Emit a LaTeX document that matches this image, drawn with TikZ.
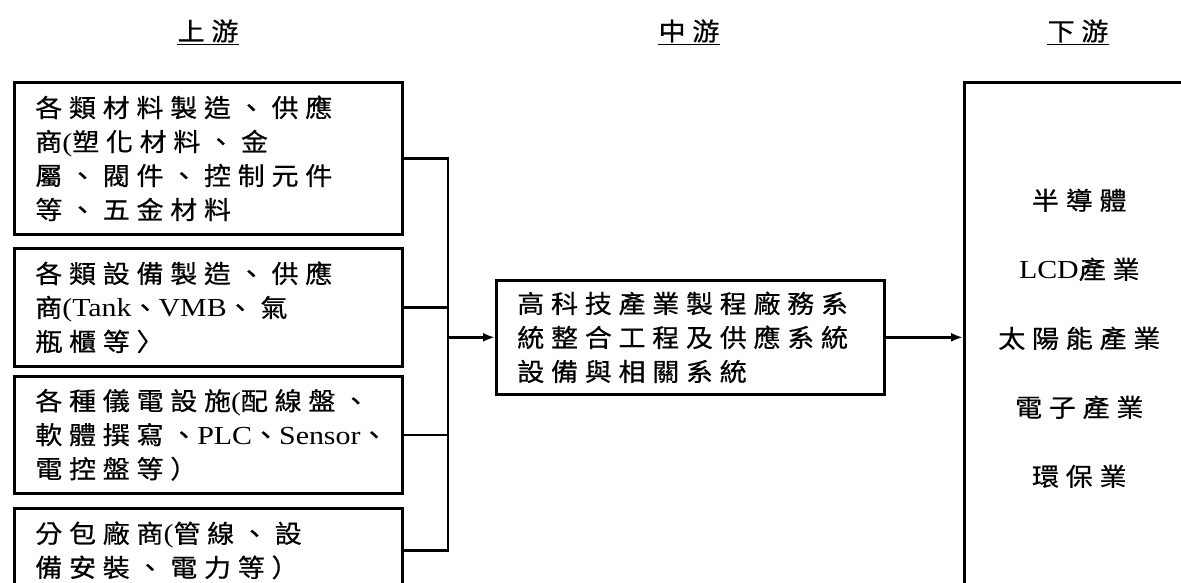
\documentclass[tikz,border=0pt]{standalone}
\usepackage{fontspec}
\setmainfont{Liberation Serif}
\newfontfamily\cjk[FakeStretch=1.08,LetterSpace=27,FakeBold=0.6]{Noto Sans CJK TC}
\newfontfamily\lat[FakeStretch=1.15]{Liberation Serif}
\usetikzlibrary{arrows.meta,positioning}
\tikzset{>={Latex[length=12pt,width=9pt]}}
\newcommand\bodyfont{\cjk\fontsize{25}{34}\selectfont}
\newcommand\en[1]{{\lat\fontsize{26}{34}\selectfont #1}}

\begin{document}
\begin{tikzpicture}[x=1pt, y=-1pt,
		box/.style={draw, line width=2.6pt, anchor=north west, inner xsep=21pt, inner ysep=0pt, text width=346pt, align=left, font=\bodyfont},
		title/.style={inner sep=0pt, font=\bodyfont},
		wire/.style={line width=2.4pt}]
		\useasboundingbox (0,0) rectangle (1181,582);
		\clip (0,0) rectangle (1181,582);
		% column titles
		\node[title] (up) at (208,31) {上游};
		\node[title] (mi) at (689,31) {中游};
		\node[title] (dn) at (1078,31) {下游};
		\foreach \t in {up,mi,dn}
			\draw[line width=1.5pt] ([yshift=-2pt]\t.south west) -- ([yshift=-2pt]\t.south east);
		% upstream boxes
		\node[box, minimum height=152pt] (b1) at (13,81) {各類材料製造、供應\\商\en{(}塑化材料、金\\屬、閥件、控制元件\\等、五金材料};
		\node[box, minimum height=118pt] (b2) at (13,247) {各類設備製造、供應\\商\en{(Tank}、\en{VMB}、氣\\瓶櫃等〉};
		\node[box, minimum height=117pt] (b3) at (13,375) {各種儀電設施\en{(}配線盤、\\\mbox{軟體撰寫、\en{PLC}、\en{Sensor}、}\\電控盤等）};
		\node[box, minimum height=84pt] (b4) at (13,507) {分包廠商\en{(}管線、設\\備安裝、電力等）};
		% midstream and downstream
		\node[box, minimum height=114pt] (mid) at (495,279) {高科技產業製程廠務系\\統整合工程及供應系統\\設備與相關系統};
		\node[box, text width=188pt, align=center, minimum height=512pt, font=\cjk\fontsize{25}{69}\selectfont] (down) at (963,81) {半導體\\\en{LCD}產業\\太陽能產業\\電子產業\\環保業};
		% connectors
		\coordinate (bus) at ([xshift=-47pt]mid.west);
		\draw[wire] (b1.east) -| (bus);
		\draw[wire] (b4.east) -| (bus);
		\draw[wire] (b2.east) -- (b2.east -| bus);
		\draw[wire] (b3.east) -- (b3.east -| bus);
		\draw[wire, ->] (bus) -- (mid.west);
		\draw[wire, ->] (mid.east) -- (mid.east -| down.west);
	\end{tikzpicture}
\end{document}
